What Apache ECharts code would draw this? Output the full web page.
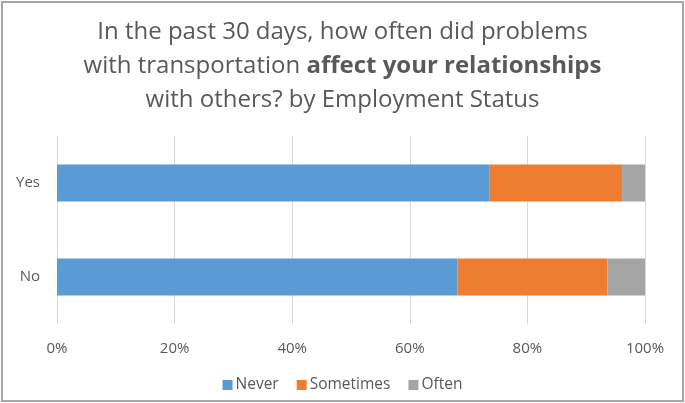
<!DOCTYPE html>
<html>
<head>
<meta charset="utf-8">
<script src="https://cdn.jsdelivr.net/npm/echarts@6/dist/echarts.min.js"></script>
<style>
  html, body { margin: 0; padding: 0; background: #fff; }
  #chart { width: 685px; height: 403px; }
</style>
</head>
<body>
<div id="chart"></div>
<script>
var categories = ['No', 'Yes'];
var seriesNames = ['Never', 'Sometimes', 'Often'];
var neverValues = [68.1, 73.5];
var sometimesValues = [25.5, 22.6];
var oftenValues = [6.4, 3.9];
var tickLabels = ['0%', '20%', '40%', '60%', '80%', '100%'];
var colors = ['#5b9bd5', '#ed7d31', '#a5a5a5'];

var chart = echarts.init(document.getElementById('chart'));
var font = '"Open Sans", "Noto Sans", sans-serif';
var textGray = '#595959';

function makeSeries(name, data, color) {
  return {
    name: name,
    type: 'bar',
    stack: 'total',
    data: data,
    barWidth: 37,
    itemStyle: { color: color },
    emphasis: { disabled: true }
  };
}

chart.setOption({
  animation: false,
  textStyle: { fontFamily: font },
  title: {
    text: 'In the past 30 days, how often did problems\nwith transportation {b|affect your relationships}\nwith others? by Employment Status',
    left: 'center',
    top: 10,
    textStyle: {
      fontFamily: font,
      fontSize: 24,
      fontWeight: 'normal',
      color: textGray,
      lineHeight: 34,
      rich: {
        b: { fontFamily: font, fontSize: 24, fontWeight: 'bold', color: textGray, lineHeight: 34 }
      }
    }
  },
  graphic: [{
    type: 'rect',
    shape: { x: 2, y: 2, width: 681, height: 399 },
    style: { fill: 'none', stroke: '#a6a6a6', lineWidth: 2 },
    silent: true
  }],
  legend: {
    data: seriesNames,
    bottom: 5,
    left: 'center',
    itemWidth: 10,
    itemHeight: 10,
    itemGap: 18,
    icon: 'rect',
    textStyle: { fontFamily: font, fontSize: 15.5, color: textGray, padding: [0, 0, 0, -2] }
  },
  grid: { left: 57, right: 40, top: 136, bottom: 79, containLabel: false },
  xAxis: {
    type: 'value',
    min: 0,
    max: 100,
    interval: 20,
    axisLine: { show: false },
    axisTick: { show: false },
    splitLine: { show: true, lineStyle: { color: '#d9d9d9', width: 1 } },
    axisLabel: {
      margin: 17,
      fontFamily: font,
      fontSize: 15,
      color: textGray,
      formatter: function (v) { return tickLabels[Math.round(v / 20)]; }
    }
  },
  yAxis: {
    type: 'category',
    data: categories,
    axisLine: { show: false },
    axisTick: { show: false },
    axisLabel: { margin: 17, fontFamily: font, fontSize: 15, color: textGray }
  },
  series: [
    makeSeries(seriesNames[0], neverValues, colors[0]),
    makeSeries(seriesNames[1], sometimesValues, colors[1]),
    makeSeries(seriesNames[2], oftenValues, colors[2])
  ]
});
</script>
</body>
</html>
